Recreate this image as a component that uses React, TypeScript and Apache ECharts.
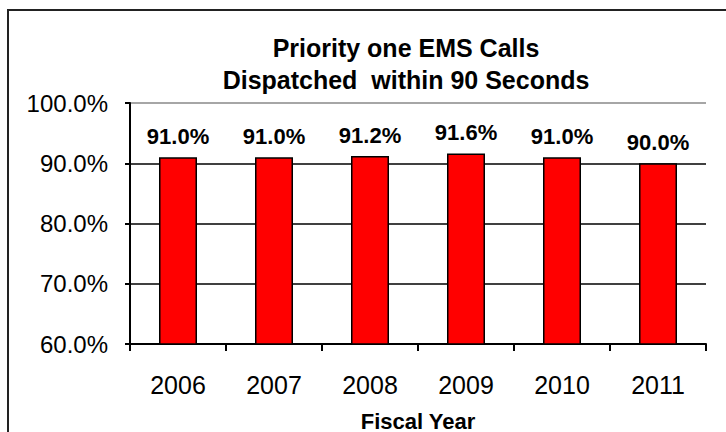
import React, { useEffect, useRef } from "react";
import * as echarts from "echarts";

const titleLines = ["Priority one EMS Calls", "Dispatched  within 90 Seconds"];
const categories = ["2006", "2007", "2008", "2009", "2010", "2011"];
const values = [91.0, 91.0, 91.2, 91.6, 91.0, 90.0];
const yMin = 60;
const yMax = 100;
const yStep = 10;
const xAxisName = "Fiscal Year";

export default function App() {
  const ref = useRef<HTMLDivElement>(null);
  useEffect(() => {
    if (!ref.current) return;
    const chart = echarts.init(ref.current, undefined, { renderer: "svg" });
    chart.setOption({
      animation: false,
      backgroundColor: "#ffffff",
      textStyle: { fontFamily: "Liberation Sans, Arial, sans-serif" },
      title: {
        text: titleLines.join("\n"),
        left: 401,
        top: 27,
        textAlign: "center",
        textStyle: {
          fontSize: 25,
          fontWeight: "bold",
          color: "#000",
          lineHeight: 32,
          fontFamily: "Liberation Sans, Arial, sans-serif",
        },
      },
      graphic: [
        {
          type: "rect",
          shape: { x: 8, y: 10, width: 730, height: 430 },
          style: { fill: "none", stroke: "#222", lineWidth: 2 },
          silent: true,
        },
      ],
      grid: {
        left: 130,
        right: 20,
        top: 103,
        bottom: 88,
        show: false,
        containLabel: false,
        outerBoundsMode: "none",
      },
      xAxis: {
        type: "category",
        data: categories,
        name: xAxisName,
        nameLocation: "middle",
        nameGap: 66,
        nameTextStyle: { fontSize: 22, fontWeight: "bold", color: "#000", lineHeight: 22 },
        axisLine: { lineStyle: { color: "#000", width: 2 } },
        axisTick: { show: true, length: 7, lineStyle: { color: "#000", width: 2 } },
        axisLabel: { fontSize: 25, color: "#000", margin: 28 },
      },
      yAxis: {
        type: "value",
        min: yMin,
        max: yMax,
        interval: yStep,
        axisLine: { show: true, lineStyle: { color: "#000", width: 2 } },
        axisTick: { show: true, length: 5, lineStyle: { color: "#000", width: 2 } },
        axisLabel: {
          fontSize: 24,
          color: "#000",
          margin: 22,
          formatter: (v: number) => v.toFixed(1) + "%",
        },
        splitLine: {
          show: true,
          lineStyle: { color: ["#000", "#000", "#000", "#000", "#888"], width: 1.5 },
        },
      },
      series: [
        {
          type: "bar",
          data: values,
          barWidth: 38,
          itemStyle: { color: "#ff0000", borderColor: "#000", borderWidth: 1.5 },
          label: {
            show: true,
            position: "top",
            distance: 10,
            fontSize: 22,
            fontWeight: "bold",
            color: "#000",
            formatter: (p: any) => Number(p.value).toFixed(1) + "%",
          },
        },
      ],
    });
    return () => chart.dispose();
  }, []);
  return (
    <div
      ref={ref}
      style={{ position: "fixed", left: 0, top: 0, width: 726, height: 432 }}
    />
  );
}
